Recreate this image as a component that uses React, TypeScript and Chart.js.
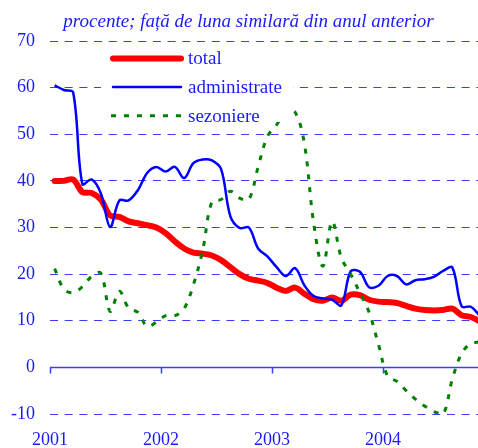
import React, { useEffect, useRef } from 'react';
import { Chart, registerables } from 'chart.js';

Chart.register(...registerables);

const titleText = 'procente; față de luna similară din anul anterior';
const years = ['2001', '2002', '2003', '2004'];
const yearStartMonth = [0, 12, 24, 36];
const seriesNames = ['total', 'administrate', 'sezoniere'];

// monthly values, Jan 2001 .. Nov 2004
const total = [40, 40, 40.3, 37.6, 37.4, 36, 32.6, 32.3, 31.3, 30.9, 30.5, 30, 28.8, 27, 25.5, 24.6, 24.4, 24, 23, 21.5, 20, 19, 18.6, 18.1, 17.1, 16.4, 17.1, 15.8, 14.6, 14.3, 15, 14.3, 15.6, 15.5, 14.5, 14.1, 14, 13.8, 13.2, 12.6, 12.3, 12.2, 12.3, 12.6, 11.2, 10.8, 9.8];
const administrate = [60.5, 59.5, 59, 39.3, 40.3, 37.3, 30.1, 35.8, 35.8, 38, 41.7, 43, 42, 43, 40.6, 43.8, 44.6, 44.4, 42.5, 32.4, 29.9, 30, 25.5, 23.8, 21.5, 19.6, 21.3, 17.6, 15.3, 14.8, 14.5, 13.3, 20.6, 20.5, 17.2, 17.5, 19.6, 19.6, 17.8, 18.7, 18.9, 19.4, 20.7, 21.4, 13.1, 13, 11];
const sezoniere = [21.2, 16.8, 16, 17.3, 19.5, 20.2, 12, 16.3, 12.7, 11.8, 8.8, 9.7, 11.1, 11.1, 12.6, 17.7, 25, 35.5, 36, 37.8, 36.3, 36, 43, 49.5, 52, 54.9, 54.7, 48, 31, 21.7, 31.3, 23.5, 20, 16, 11.8, 5, -1.9, -3, -5, -6.8, -8.3, -9.5, -10.1, -2.5, 3, 5.1, 5.5];

const yMin = -10;
const yMax = 70;
const yStep = 10;

const TEXT_BLUE = '#1a1aff';
const GRID_BLUE = '#3c3cff';
const SERIF = "'Liberation Serif', 'Times New Roman', serif";

const toPoints = (arr: number[]) => arr.map((v, i) => ({ x: i + 0.5, y: v }));

const titlePlugin = {
  id: 'customTitle',
  afterDraw(chart: any) {
    const { ctx } = chart;
    ctx.save();
    ctx.fillStyle = TEXT_BLUE;
    ctx.font = `italic 19px ${SERIF}`;
    ctx.textAlign = 'center';
    ctx.textBaseline = 'middle';
    ctx.fillText(titleText, 248.5, 22);
    ctx.restore();
  },
};

const zeroAxisPlugin = {
  id: 'zeroAxis',
  beforeDatasetsDraw(chart: any) {
    const { ctx, chartArea, scales } = chart;
    const x = scales.x;
    const y = scales.y;
    const y0 = Math.round(y.getPixelForValue(0)) + 0.5;
    ctx.save();
    ctx.strokeStyle = GRID_BLUE;
    ctx.lineWidth = 1.5;
    ctx.beginPath();
    ctx.moveTo(chartArea.left, y0);
    ctx.lineTo(chartArea.right, y0);
    yearStartMonth.forEach((m) => {
      const px = Math.round(x.getPixelForValue(m)) + 0.5;
      ctx.moveTo(px, y0);
      ctx.lineTo(px, y0 + 6);
    });
    ctx.stroke();
    ctx.restore();
  },
};

const legendPlugin = {
  id: 'boxLegend',
  afterDatasetsDraw(chart: any) {
    const { ctx } = chart;
    ctx.save();
    ctx.fillStyle = '#ffffff';
    ctx.fillRect(101, 46, 192, 76);
    chart.data.datasets.forEach((ds: any, i: number) => {
      const yy = 58.5 + i * 28.6;
      const dashed = ds.borderDash && ds.borderDash.length;
      ctx.strokeStyle = ds.borderColor;
      ctx.lineWidth = ds.borderWidth;
      ctx.setLineDash(ds.borderDash || []);
      ctx.lineCap = dashed ? 'butt' : 'round';
      ctx.beginPath();
      ctx.moveTo(dashed ? 111 : 113, yy);
      ctx.lineTo(181, yy);
      ctx.stroke();
      ctx.setLineDash([]);
      ctx.fillStyle = TEXT_BLUE;
      ctx.font = `19px ${SERIF}`;
      ctx.textAlign = 'left';
      ctx.textBaseline = 'middle';
      ctx.fillText(ds.label, 188, yy + 1);
    });
    ctx.restore();
  },
};

export default function App() {
  const canvasRef = useRef<HTMLCanvasElement | null>(null);

  useEffect(() => {
    if (!canvasRef.current) return;
    const chart = new Chart(canvasRef.current, {
      type: 'line',
      data: {
        datasets: [
          {
            label: seriesNames[0],
            data: toPoints(total),
            borderColor: '#ff0000',
            borderWidth: 6,
            pointRadius: 0,
            tension: 0.35,
            borderJoinStyle: 'round',
            borderCapStyle: 'round',
            order: 3,
          },
          {
            label: seriesNames[1],
            data: toPoints(administrate),
            borderColor: '#0000ff',
            borderWidth: 2.5,
            pointRadius: 0,
            tension: 0.35,
            borderJoinStyle: 'round',
            order: 2,
          },
          {
            label: seriesNames[2],
            data: toPoints(sezoniere),
            borderColor: '#008000',
            borderWidth: 3,
            borderDash: [5, 8],
            pointRadius: 0,
            tension: 0.35,
            order: 1,
          },
        ] as any,
      },
      options: {
        animation: false,
        responsive: true,
        maintainAspectRatio: false,
        layout: { padding: { top: 41, right: 0, left: 0, bottom: 0 } },
        plugins: {
          legend: { display: false },
          title: { display: false },
          tooltip: { enabled: false },
        },
        scales: {
          x: {
            type: 'linear',
            min: 0,
            max: 46.27,
            grid: { display: false, drawTicks: false },
            border: { display: false },
            afterBuildTicks: (scale: any) => {
              scale.ticks = yearStartMonth.map((v) => ({ value: v }));
            },
            afterFit: (scale: any) => {
              scale.height = 34;
            },
            ticks: {
              autoSkip: false,
              maxRotation: 0,
              padding: 15,
              color: TEXT_BLUE,
              font: { family: SERIF, size: 18 },
              callback: (v: any) => years[yearStartMonth.indexOf(Number(v))] ?? '',
            },
          },
          y: {
            type: 'linear',
            min: yMin,
            max: yMax,
            afterFit: (scale: any) => {
              scale.width = 50;
            },
            grid: {
              drawTicks: false,
              lineWidth: 1,
              color: (ctx: any) => (ctx.tick && ctx.tick.value === 0 ? 'rgba(0,0,0,0)' : GRID_BLUE),
            },
            border: { display: false, dash: [8, 6.7] },
            ticks: {
              stepSize: yStep,
              padding: 15,
              color: TEXT_BLUE,
              font: { family: SERIF, size: 18 },
            },
          },
        },
      },
      plugins: [zeroAxisPlugin, legendPlugin, titlePlugin],
    });
    return () => chart.destroy();
  }, []);

  return (
    <div style={{ position: 'fixed', left: 0, top: 0, width: 478, height: 448, background: '#fff' }}>
      <canvas ref={canvasRef} />
    </div>
  );
}
